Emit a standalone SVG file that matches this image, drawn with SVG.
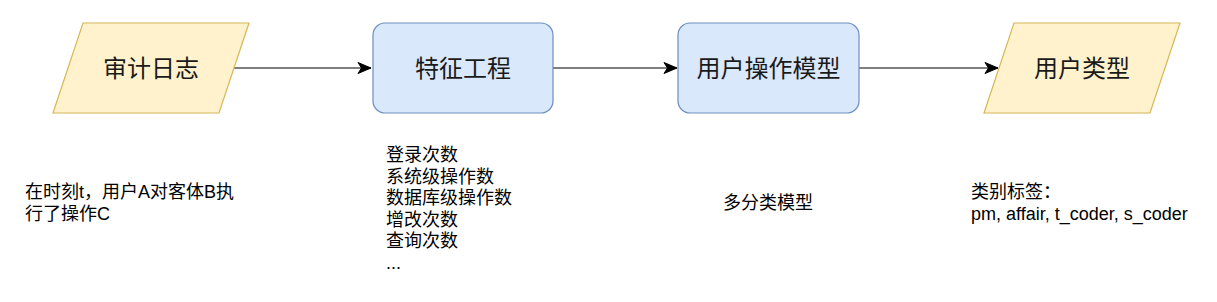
<svg xmlns="http://www.w3.org/2000/svg" width="1217" height="302" viewBox="0 0 1217 302">
<style>
.io{fill:#fff2cc;stroke:#d6b656;stroke-width:1.2}
.proc{fill:#dae8fc;stroke:#6c8ebf;stroke-width:1.2}
.lbl{font-family:"Liberation Sans","Noto Sans CJK SC",sans-serif;font-size:24px;fill:#1a1a1a;text-anchor:middle;dominant-baseline:central}
.txt{font-family:"Liberation Sans","Noto Sans CJK SC",sans-serif;font-size:18px;fill:#000}
.edge{fill:none;stroke:#000;stroke-width:1.2}
</style>
<defs>
<marker id="arr" viewBox="-14 -7 16 14" refX="0" refY="0" markerWidth="16" markerHeight="14" markerUnits="userSpaceOnUse" orient="auto">
<path d="M0,0 L-13,-5.5 L-9.5,0 L-13,5.5 Z" fill="#000" stroke="#000" stroke-width="1"/>
</marker>
</defs>
<rect width="1217" height="302" fill="#fff"/>
<g id="connectors">
<path class="edge" d="M234,68 L371,68" marker-end="url(#arr)"/>
<path class="edge" d="M553,68 L677,68" marker-end="url(#arr)"/>
<path class="edge" d="M859,68 L998,68" marker-end="url(#arr)"/>
</g>
<g id="audit-log">
<polygon class="io" points="83,23 249,23 219,113 53,113"/>
<text class="lbl" x="151" y="68">审计日志</text>
</g>
<g id="feature-eng">
<rect class="proc" x="373" y="23" width="180" height="90" rx="12" ry="12"/>
<text class="lbl" x="463" y="68">特征工程</text>
</g>
<g id="user-model">
<rect class="proc" x="678" y="23" width="181" height="90" rx="12" ry="12"/>
<text class="lbl" x="768.5" y="68">用户操作模型</text>
</g>
<g id="user-type">
<polygon class="io" points="1014,23 1180,23 1150,113 984,113"/>
<text class="lbl" x="1082" y="68">用户类型</text>
</g>
<g id="note-log">
<text class="txt" x="25" y="198">在时刻t，用户A对客体B执</text>
<text class="txt" x="25" y="220">行了操作C</text>
</g>
<g id="note-features">
<text class="txt" x="386" y="161">登录次数</text>
<text class="txt" x="386" y="182.5">系统级操作数</text>
<text class="txt" x="386" y="204">数据库级操作数</text>
<text class="txt" x="386" y="225.5">增改次数</text>
<text class="txt" x="386" y="247">查询次数</text>
<text class="txt" x="386" y="268.5">...</text>
</g>
<g id="note-model">
<text class="txt" x="723" y="209">多分类模型</text>
</g>
<g id="note-labels">
<text class="txt" x="971" y="198">类别标签：</text>
<text class="txt" x="971" y="220">pm, affair, t_coder, s_coder</text>
</g>
</svg>
